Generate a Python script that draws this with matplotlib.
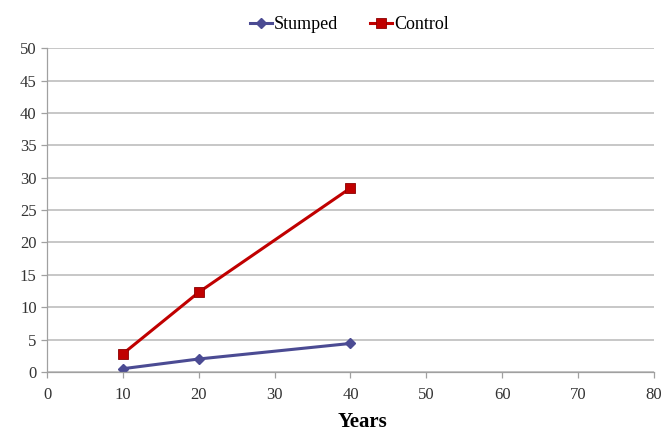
import matplotlib

matplotlib.use("Agg")
import matplotlib.pyplot as plt

# values
years = [10, 20, 40]
stumped = [0.5, 2.0, 4.4]
control = [2.8, 12.3, 28.4]

x_ticks = [0, 10, 20, 30, 40, 50, 60, 70, 80]
y_ticks = [0, 5, 10, 15, 20, 25, 30, 35, 40, 45, 50]

plt.rcParams.update(
    {
        "font.family": "serif",
        "font.serif": ["Liberation Serif", "DejaVu Serif"],
    }
)

fig = plt.figure(figsize=(6.72, 4.34), dpi=100)
ax = fig.add_axes((0.070, 0.143, 0.903, 0.746))

ax.plot(years, stumped, color="#4B4B93", lw=2.2, marker="D", ms=5,
        label="Stumped")
ax.plot(years, control, color="#C00000", lw=2.2, marker="s", ms=7,
        markeredgecolor="#8B0000", markeredgewidth=0.6, label="Control")

ax.set_xlim(0, 80)
ax.set_ylim(0, 50)
ax.set_xticks(x_ticks)
ax.set_yticks(y_ticks)
ax.grid(axis="y", color="#BEBEBE", lw=1.2)
ax.set_axisbelow(True)

for side in ("top", "right"):
    ax.spines[side].set_visible(False)
for side in ("left", "bottom"):
    ax.spines[side].set_color("#A0A0A0")
    ax.spines[side].set_linewidth(0.9)
ax.tick_params(colors="#A0A0A0", labelcolor="#333333", labelsize=12,
               length=4, width=0.9)
ax.tick_params(axis="x", pad=7)

ax.set_xlabel("Years", fontsize=15, fontweight="bold")
ax.xaxis.set_label_coords(0.519, -0.125)

fig.legend(loc="upper center", bbox_to_anchor=(0.52, 1.0), ncols=2,
           frameon=False, fontsize=13, handlelength=1.2, handletextpad=0.1,
           columnspacing=1.8)

fig.savefig("out.png", dpi=100)
